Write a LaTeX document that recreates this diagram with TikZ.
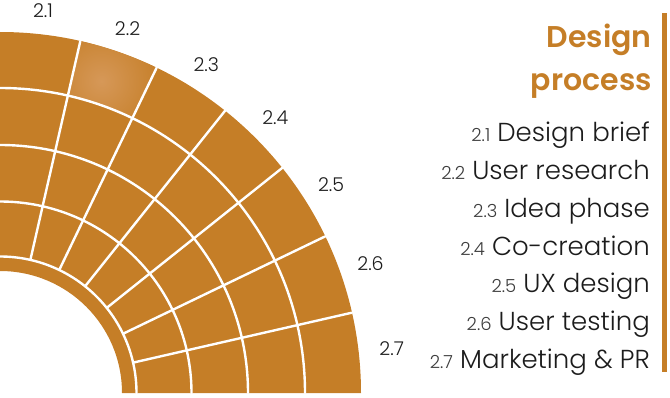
\documentclass[tikz,border=0pt]{standalone}
\usepackage{fontspec}
\setmainfont{Poppins}[UprightFont=* Light, BoldFont=* SemiBold]
\definecolor{ochre}{RGB}{197,126,39}
\definecolor{ochrelight}{RGB}{214,152,88}
\definecolor{ink}{RGB}{28,28,28}
\definecolor{inkgray}{RGB}{60,60,60}
\begin{document}
\begin{tikzpicture}[x=1pt, y=1pt, line join=round, line cap=round]
    \useasboundingbox (0,-4) rectangle (670,393);
    \fill[ochre] (0,122) arc (90:0:122) -- (361,0) arc (0:90:361) -- cycle;
    \begin{scope}
        \clip (77.14:305) arc (77.14:64.29:305) -- (64.29:361) arc (64.29:77.14:361) -- cycle;
        \shade[inner color=ochrelight, outer color=ochre] (72:328) circle (62);
    \end{scope}
    \foreach \r in {136.5,191.5,248,305} \draw[white, line width=2.4] (\r,0) arc (0:90:\r);
    \foreach \k in {1,...,6} \draw[white, line width=2.4] ({\k*90/7}:136.5) -- ({\k*90/7}:361);
    \foreach \k in {1,...,7} \node[text=ink, font=\fontsize{19}{19}\selectfont] (num\k) at ({90-(\k-0.5)*90/7}:{383+1.6*\k}) {2.\k};
    \node[anchor=base east, inner sep=0pt, text=ochre, font=\bfseries\fontsize{30}{30}\selectfont] (title) at (652,345) {Design};
    \node[anchor=base east, inner sep=0pt, text=ochre, font=\bfseries\fontsize{30}{30}\selectfont] (title2) at (652,302) {process};
    \foreach \k/\lbl in {1/Design brief, 2/User research, 3/Idea phase, 4/Co-creation, 5/UX design, 6/User testing, 7/Marketing \& PR}
        \node[anchor=base east, text=ink, font=\fontsize{26}{26}\selectfont, inner sep=0pt] (item\k) at (650,{251-37.7*(\k-1)}) {{\fontsize{18}{18}\selectfont\color{inkgray}2.\k} \lbl};
    \fill[ochre] (662,21) rectangle (667,380);
\end{tikzpicture}
\end{document}
